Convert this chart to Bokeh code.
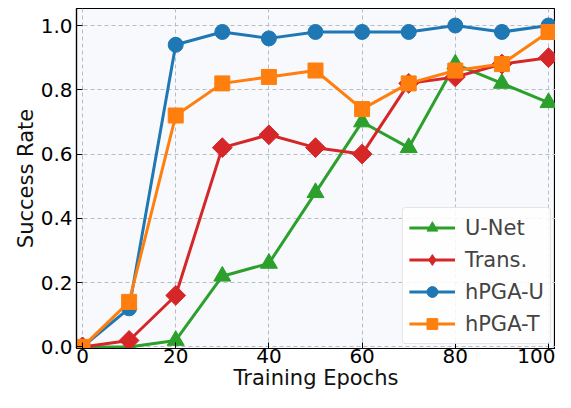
import math
from bokeh.plotting import figure
from bokeh.models import Range1d, FixedTicker, Legend, LegendItem
from bokeh.embed import file_html
from bokeh.resources import INLINE

epochs = [0, 10, 20, 30, 40, 50, 60, 70, 80, 90, 100]
unet = [0.0, 0.0, 0.02, 0.22, 0.26, 0.48, 0.70, 0.62, 0.88, 0.82, 0.76]
trans = [0.0, 0.02, 0.16, 0.62, 0.66, 0.62, 0.60, 0.82, 0.84, 0.88, 0.90]
hpga_u = [0.0, 0.12, 0.94, 0.98, 0.96, 0.98, 0.98, 0.98, 1.0, 0.98, 1.0]
hpga_t = [0.0, 0.14, 0.72, 0.82, 0.84, 0.86, 0.74, 0.82, 0.86, 0.88, 0.98]
x_ticks = [0, 20, 40, 60, 80, 100]
y_ticks = [0.0, 0.2, 0.4, 0.6, 0.8, 1.0]
labels = ["U-Net", "Trans.", "hPGA-U", "hPGA-T"]
colors = ["#2ca02c", "#d62728", "#1f77b4", "#ff7f0e"]
markers = ["triangle", "square", "circle", "square"]
legend_markers = ["triangle", "diamond", "circle", "square"]
angles = [0.0, math.pi / 4, 0.0, 0.0]
sizes = [17, 14, 15, 15]
legend_sizes = [17, 21, 15, 15]

FONT = "DejaVu Sans"
p = figure(width=555, height=392, output_backend="svg", toolbar_location=None,
           x_range=Range1d(-1.29, 101.5), y_range=Range1d(-0.005, 1.053),
           min_border_left=76, min_border_right=0, min_border_top=8, min_border_bottom=44)
p.background_fill_color = "#f8f9fc"
p.border_fill_color = "white"
p.outline_line_color = "black"
p.outline_line_width = 1.2

for ax in (p.xaxis[0], p.yaxis[0]):
    ax.major_tick_in = 6
    ax.major_tick_out = 0
    ax.minor_tick_line_color = None
    ax.axis_line_color = "black"
    ax.axis_line_width = 1.2
    ax.major_label_text_font = FONT
    ax.major_label_text_font_size = "20px"
    ax.major_label_text_color = "black"
    ax.axis_label_text_font = FONT
    ax.axis_label_text_font_size = "21px"
    ax.axis_label_text_font_style = "normal"
    ax.axis_label_text_color = "#111111"

p.xaxis.ticker = FixedTicker(ticks=x_ticks)
p.yaxis.ticker = FixedTicker(ticks=y_ticks)
p.yaxis.major_label_overrides = {v: f"{v:.1f}" for v in y_ticks}
p.xaxis.axis_label = "Training Epochs"
p.yaxis.axis_label = "Success Rate"
p.xaxis.major_label_standoff = 0
p.xaxis.axis_label_standoff = 0
p.yaxis.major_label_standoff = 4
p.yaxis.axis_label_standoff = 0

for g in (p.xgrid[0], p.ygrid[0]):
    g.grid_line_color = "#b8bcc4"
    g.grid_line_dash = "4 3"
    g.grid_line_width = 1

items = []
for ys, lab, c, m, a, s, lm, ls in zip([unet, trans, hpga_u, hpga_t], labels, colors,
                                       markers, angles, sizes, legend_markers, legend_sizes):
    r1 = p.line(epochs, ys, line_color=c, line_width=3)
    p.scatter(epochs, ys, marker=m, size=s, angle=a, fill_color=c, line_color=c)
    # legend-only marker (no data points drawn)
    r3 = p.scatter([float("nan")], [float("nan")], marker=lm, size=ls, fill_color=c, line_color=c)
    items.append(LegendItem(label=lab, renderers=[r1, r3]))

legend = Legend(items=items, location="bottom_right")
legend.label_text_font = FONT
legend.label_text_font_size = "21px"
legend.glyph_width = 46
legend.glyph_height = 27
legend.label_standoff = 10
legend.spacing = 5
legend.padding = 6
legend.margin = 4
legend.border_line_color = "#cccccc"
legend.border_line_width = 1
legend.background_fill_alpha = 0.85
legend.border_radius = 4
p.add_layout(legend)

open("out.html", "w").write(file_html(p, INLINE))
